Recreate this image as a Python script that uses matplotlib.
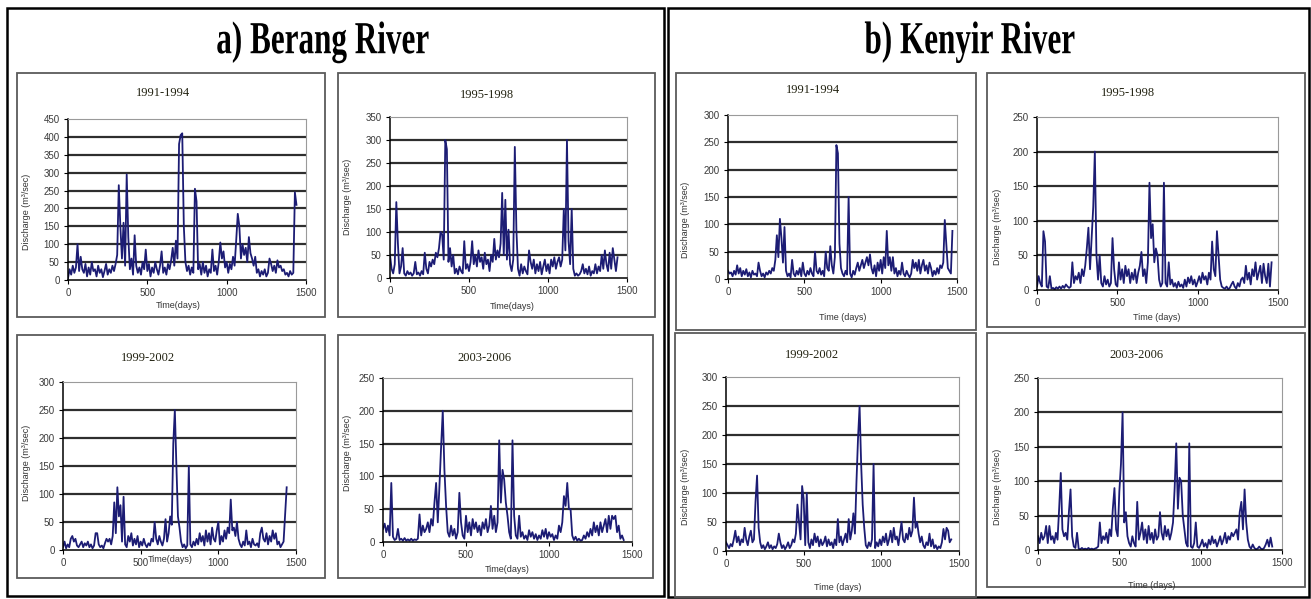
import numpy as np
import matplotlib
matplotlib.use("Agg")
import matplotlib.pyplot as plt
from matplotlib import patheffects
from matplotlib.patches import Rectangle
from matplotlib.transforms import Affine2D

W, H = 1311, 599
STEP = 10  # days between plotted discharge samples

periods = ["1991-1994", "1995-1998", "1999-2002", "2003-2006"]

# ---- Berang River daily discharge (m3/sec), sampled every 10 days ----
berang_1991_1994 = [
    5, 30, 15, 40, 20, 35, 100, 25, 65, 30,
    20, 45, 10, 35, 15, 50, 25, 30, 10, 40,
    20, 30, 8, 25, 45, 15, 30, 20, 40, 25,
    45, 70, 265, 150, 60, 160, 40, 295, 120, 30,
    60, 15, 125, 40, 20, 35, 15, 50, 30, 85,
    25, 45, 10, 35, 20, 50, 30, 15, 40, 80,
    20, 35, 15, 45, 30, 55, 90, 40, 110, 60,
    380, 405, 410, 150, 50, 25, 40, 15, 35, 20,
    255, 220, 30, 45, 15, 50, 20, 40, 10, 30,
    20, 85, 25, 40, 15, 50, 105, 60, 80, 35,
    50, 20, 45, 30, 65, 40, 110, 185, 150, 60,
    100, 70, 90, 50, 120, 75, 60, 40, 65, 20,
    30, 10, 25, 15, 30, 10, 20, 60, 45, 25,
    40, 20, 55, 35, 40, 25, 30, 15, 20, 10,
    25, 15, 20, 245, 210,
]
berang_1995_1998 = [
    50, 20, 10, 30, 165, 75, 10, 25, 65, 10,
    5, 15, 8, 12, 5, 10, 35, 8, 12, 5,
    15, 8, 55, 20, 10, 35, 25, 40, 30, 55,
    45, 65, 100, 95, 40, 300, 280, 35, 65, 25,
    50, 10, 20, 8, 25, 15, 10, 80, 20, 30,
    15, 35, 80, 30, 50, 25, 60, 35, 45, 20,
    55, 30, 40, 15, 50, 35, 85, 40, 60, 45,
    75, 185, 50, 170, 40, 105, 30, 15, 40, 285,
    105, 20, 5, 30, 10, 25, 15, 8, 60, 35,
    20, 40, 10, 30, 15, 35, 8, 25, 40, 15,
    30, 10, 40, 25, 45, 20, 35, 45, 25, 40,
    150, 60, 300, 80, 30, 150, 20, 5, 10, 5,
    8, 15, 30, 10, 20, 8, 25, 5, 15, 10,
    30, 10, 25, 15, 50, 20, 60, 30, 15, 55,
    20, 65, 40, 15, 45,
]
berang_1999_2002 = [
    5, 15, 3, 10, 5, 20, 25, 15, 20, 8,
    5, 10, 15, 5, 12, 8, 15, 5, 10, 3,
    8, 30, 30, 10, 5, 8, 3, 12, 20, 15,
    20, 10, 25, 85, 30, 112, 60, 80, 15, 95,
    10, 5, 25, 15, 30, 8, 20, 10, 25, 5,
    15, 8, 20, 10, 5, 12, 8, 20, 15, 50,
    20, 10, 25, 15, 8, 20, 55, 15, 30, 60,
    45, 190, 250, 150, 60, 40, 15, 5, 10, 3,
    8, 150, 10, 5, 15, 8, 20, 10, 30, 15,
    25, 8, 35, 15, 30, 10, 40, 20, 15, 35,
    50, 10, 25, 15, 35, 20, 40, 30, 90, 35,
    40, 25, 50, 20, 10, 5, 15, 8, 35, 10,
    15, 5, 20, 10, 8, 12, 5, 30, 40, 20,
    15, 30, 10, 25, 15, 35, 20, 30, 10, 15,
    5, 10, 15, 65, 112,
]
berang_2003_2006 = [
    20, 28, 15, 25, 10, 90, 8, 3, 5, 20,
    3, 5, 2, 6, 2, 4, 2, 5, 2, 4,
    3, 5, 42, 10, 25, 15, 20, 30, 15, 35,
    25, 60, 90, 30, 85, 145, 200, 110, 55, 15,
    8, 25, 10, 20, 5, 15, 75, 30, 10, 5,
    40, 15, 30, 10, 35, 20, 30, 15, 25, 10,
    30, 20, 35, 15, 25, 55, 20, 40, 15, 30,
    155, 60, 110, 95, 60, 40, 15, 5, 155, 40,
    10, 5, 40, 8, 15, 5, 10, 3, 18, 8,
    15, 5, 12, 3, 10, 5, 18, 8, 20, 5,
    15, 8, 12, 3, 10, 5, 25, 15, 30, 70,
    55, 90, 50, 50, 10, 3, 8, 2, 5, 2,
    3, 10, 5, 15, 8, 20, 10, 30, 15, 25,
    10, 30, 15, 25, 35, 15, 40, 20, 40, 35,
    40, 15, 25, 5, 10, 3,
]

# ---- Kenyir River daily discharge (m3/sec), sampled every 10 days ----
kenyir_1991_1994 = [
    15, 10, 12, 5, 15, 8, 25, 10, 20, 5,
    15, 8, 18, 5, 12, 3, 15, 8, 10, 5,
    30, 15, 5, 10, 3, 12, 8, 15, 10, 20,
    15, 35, 80, 40, 110, 75, 30, 95, 15, 5,
    10, 3, 35, 10, 5, 15, 8, 20, 5, 30,
    10, 5, 15, 8, 20, 10, 5, 50, 15, 10,
    20, 8, 15, 5, 50, 20, 15, 60, 25, 10,
    40, 245, 230, 65, 20, 10, 5, 15, 8, 150,
    10, 3, 15, 8, 20, 30, 15, 25, 35, 20,
    30, 40, 25, 45, 20, 10, 25, 5, 30, 15,
    35, 10, 40, 20, 88, 25, 40, 15, 40, 10,
    20, 5, 15, 8, 30, 10, 5, 15, 8, 3,
    10, 35, 20, 30, 15, 35, 10, 25, 35, 15,
    25, 10, 30, 20, 5, 15, 8, 20, 10, 25,
    20, 30, 108, 65, 20, 15, 10, 88,
]
kenyir_1995_1998 = [
    5, 20, 10, 5, 85, 70, 5, 3, 20, 2,
    3, 1, 4, 2, 5, 2, 6, 3, 8, 5,
    3, 5, 40, 10, 20, 15, 25, 10, 30, 20,
    35, 60, 90, 30, 75, 120, 200, 50, 15, 50,
    10, 5, 20, 8, 15, 5, 10, 75, 30, 8,
    5, 40, 15, 30, 10, 35, 20, 30, 10, 25,
    15, 30, 10, 25, 35, 55, 20, 30, 10, 40,
    155, 75, 95, 40, 60, 50, 15, 5, 10, 155,
    10, 5, 40, 8, 15, 5, 10, 3, 12, 5,
    8, 3, 15, 5, 18, 10, 20, 8, 15, 5,
    12, 20, 10, 25, 15, 20, 8, 25, 15, 70,
    30, 20, 85, 50, 15, 5, 3, 2, 5, 1,
    3, 8, 12, 5, 2, 10, 5, 15, 18, 10,
    35, 15, 25, 8, 30, 20, 40, 15, 25, 35,
    10, 38, 20, 10, 38, 5, 40,
]
kenyir_1999_2002 = [
    15, 10, 5, 12, 8, 20, 35, 15, 25, 10,
    20, 15, 40, 20, 10, 25, 35, 15, 20, 85,
    130, 40, 15, 5, 10, 3, 8, 15, 5, 10,
    3, 8, 5, 12, 30, 15, 5, 10, 3, 8,
    15, 5, 10, 20, 15, 30, 80, 50, 20, 112,
    90, 10, 100, 15, 5, 20, 10, 30, 15, 25,
    8, 20, 10, 15, 25, 8, 20, 10, 15, 5,
    20, 10, 55, 15, 25, 10, 20, 30, 15, 55,
    20, 35, 65, 30, 120, 195, 250, 150, 80, 40,
    10, 5, 15, 8, 20, 150, 5, 15, 8, 20,
    10, 25, 15, 30, 10, 20, 35, 15, 40, 20,
    25, 10, 30, 50, 20, 15, 30, 20, 40, 25,
    35, 92, 40, 50, 30, 15, 25, 10, 5, 15,
    10, 30, 8, 20, 5, 10, 3, 8, 5, 15,
    38, 20, 40, 35, 15, 20,
]
kenyir_2003_2006 = [
    20, 10, 25, 15, 20, 35, 10, 35, 15, 20,
    10, 25, 15, 60, 112, 30, 20, 25, 15, 55,
    88, 20, 5, 3, 25, 2, 1, 3, 1, 2,
    1, 3, 1, 2, 1, 2, 3, 5, 40, 10,
    20, 15, 25, 10, 30, 20, 60, 90, 30, 20,
    85, 125, 200, 40, 55, 20, 10, 5, 20, 10,
    5, 70, 15, 25, 40, 15, 30, 10, 35, 15,
    25, 10, 30, 15, 20, 55, 25, 15, 35, 20,
    30, 15, 25, 40, 90, 155, 60, 105, 100, 50,
    30, 10, 5, 155, 5, 3, 10, 40, 5, 3,
    8, 15, 5, 10, 3, 15, 8, 20, 10, 15,
    5, 12, 20, 8, 15, 25, 10, 20, 15, 25,
    20, 25, 30, 15, 55, 70, 30, 88, 40, 15,
    5, 2, 8, 3, 1, 2, 5, 2, 1, 3,
    8, 15, 5, 18, 5,
]

berang_series = [berang_1991_1994, berang_1995_1998, berang_1999_2002, berang_2003_2006]
kenyir_series = [kenyir_1991_1994, kenyir_1995_1998, kenyir_1999_2002, kenyir_2003_2006]
berang_ymax = [450, 350, 300, 250]
kenyir_ymax = [300, 250, 300, 250]
x_ticks = [0, 500, 1000, 1500]

# ---- layout in figure pixels ----
# plot areas: (left, top, right, bottom)
berang_axes_px = [(68, 119, 306, 280), (390, 117, 627, 278),
                  (63, 382, 296, 550), (383, 378, 632, 542)]
kenyir_axes_px = [(728, 115, 957, 279), (1037, 117, 1278, 290),
                  (726, 377, 959, 551), (1038, 378, 1282, 550)]
# framed panel boxes
berang_box_px = [(17, 73, 325, 317), (338, 73, 655, 317),
                 (17, 335, 325, 578), (338, 335, 653, 578)]
kenyir_box_px = [(676, 73, 976, 330), (987, 73, 1305, 327),
                 (675, 333, 976, 597), (987, 333, 1305, 587)]
# panel title centres
berang_title_px = [(163, 93), (487, 95), (148, 358), (485, 358)]
kenyir_title_px = [(813, 90), (1128, 93), (812, 355), (1137, 355)]
# x-label centres
berang_xlab_px = [(178, 305), (512, 307), (170, 560), (507, 569)]
kenyir_xlab_px = [(843, 318), (1157, 317), (838, 587), (1152, 585)]
# y-label centres
berang_ylab_px = [(27, 212), (347, 197), (27, 463), (347, 453)]
kenyir_ylab_px = [(685, 220), (997, 227), (685, 487), (997, 487)]

LINE = "#1c1c74"
GRID = "#2e2e2e"
TICK_TXT = "#3a3a3a"
SANS = "Liberation Sans"
SERIF = "Liberation Serif"


def fx(x):
    return x / W


def fy(y):
    return 1 - y / H


class HorizontalSqueeze(patheffects.AbstractPathEffect):
    """Draw glyph outlines squeezed horizontally about a fixed centre."""

    def __init__(self, factor, centre_x):
        super().__init__()
        self.factor = factor
        self.centre_x = centre_x

    def draw_path(self, renderer, gc, tpath, affine, rgbFace=None):
        cx = self.centre_x * renderer.points_to_pixels(72) / 100.0
        squeeze = Affine2D().translate(-cx, 0).scale(self.factor, 1).translate(cx, 0)
        renderer.draw_path(gc, tpath, affine + squeeze, rgbFace)


fig = plt.figure(figsize=(W / 100, H / 100), dpi=100)
fig.patch.set_facecolor("white")

# outer frames around each river
for (l, t, r, b) in [(7, 8, 664, 596), (668, 8, 1309, 597)]:
    fig.add_artist(Rectangle((fx(l), fy(b)), fx(r - l), (b - t) / H,
                             transform=fig.transFigure, fill=False,
                             edgecolor="black", linewidth=1.8))

# river headings
for text, cx in [("a) Berang River", 323), ("b) Kenyir River", 970)]:
    fig.text(fx(cx), fy(42), text, ha="center", va="center",
             family=SERIF, weight="bold", fontsize=33, color="black",
             path_effects=[HorizontalSqueeze(0.68, cx)])


def draw_panel(values, ymax, period, ax_px, box_px, title_px, xlab_px,
               ylab_px, xlabel):
    l, t, r, b = box_px
    fig.add_artist(Rectangle((fx(l), fy(b)), fx(r - l), (b - t) / H,
                             transform=fig.transFigure, fill=False,
                             edgecolor="#5a5a5a", linewidth=1.3))
    al, at, ar, ab = ax_px
    ax = fig.add_axes([fx(al), fy(ab), fx(ar - al), (ab - at) / H])
    days = np.arange(len(values)) * STEP
    ax.plot(days, values, color=LINE, linewidth=1.3)
    ax.set_xlim(0, 1500)
    ax.set_ylim(0, ymax)
    ax.set_xticks(x_ticks)
    yt = np.arange(0, ymax + 1, 50)
    ax.set_yticks(yt)
    for v in yt[1:-1]:
        ax.axhline(v, color=GRID, linewidth=1.6, zorder=0)
    ax.tick_params(axis="both", labelsize=7, labelcolor=TICK_TXT,
                   length=3, width=0.8, direction="out", pad=3)
    for lab in ax.get_xticklabels() + ax.get_yticklabels():
        lab.set_family(SANS)
    for side in ("top", "right"):
        ax.spines[side].set_color("#9a9a9a")
        ax.spines[side].set_linewidth(0.8)
    for side in ("left", "bottom"):
        ax.spines[side].set_color("black")
        ax.spines[side].set_linewidth(1.1)
    fig.text(fx(title_px[0]), fy(title_px[1]), period, ha="center",
             va="center", family=SERIF, fontsize=9, color="#222211")
    fig.text(fx(xlab_px[0]), fy(xlab_px[1]), xlabel, ha="center",
             va="center", family=SANS, fontsize=6.5, color="#333333")
    fig.text(fx(ylab_px[0]), fy(ylab_px[1]), "Discharge (m³/sec)",
             ha="center", va="center", rotation=90, family=SANS,
             fontsize=6.5, color="#333333")


for i in range(4):
    draw_panel(berang_series[i], berang_ymax[i], periods[i], berang_axes_px[i],
               berang_box_px[i], berang_title_px[i], berang_xlab_px[i],
               berang_ylab_px[i], "Time(days)")
    draw_panel(kenyir_series[i], kenyir_ymax[i], periods[i], kenyir_axes_px[i],
               kenyir_box_px[i], kenyir_title_px[i], kenyir_xlab_px[i],
               kenyir_ylab_px[i], "Time (days)")

fig.savefig("out.png", dpi=100)
